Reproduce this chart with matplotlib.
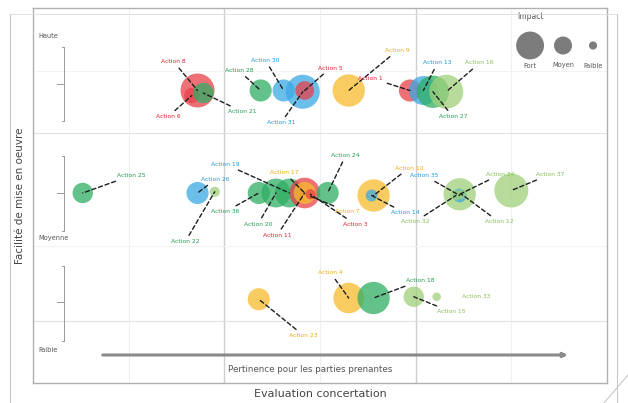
import matplotlib.pyplot as plt
from matplotlib.lines import Line2D

# ---- data ----
actions = ['Action 8', 'Action 6', 'Action 21', 'Action 28', 'Action 30', 'Action 31', 'Action 5',
           'Action 9', 'Action 1', 'Action 13', 'Action 27', 'Action 16',
           'Action 25', 'Action 26', 'Action 22', 'Action 36', 'Action 20', 'Action 19', 'Action 11',
           'Action 17', 'Action 7', 'Action 3', 'Action 24', 'Action 10', 'Action 14',
           'Action 34', 'Action 35', 'Action 32', 'Action 12', 'Action 37',
           'Action 23', 'Action 4', 'Action 18', 'Action 15', 'Action 33']
pertinence = [0.86, 0.83, 0.89, 1.19, 1.31, 1.41, 1.42,
              1.65, 1.97, 2.04, 2.09, 2.16,
              0.26, 0.86, 0.95, 1.18, 1.27, 1.34, 1.42,
              1.42, 1.44, 1.45, 1.54, 1.78, 1.77,
              2.23, 2.23, 2.21, 2.24, 2.50,
              1.18, 1.65, 1.78, 1.99, 2.11]
facilite = [2.34, 2.30, 2.32, 2.34, 2.34, 2.33, 2.34,
            2.34, 2.34, 2.34, 2.33, 2.33,
            1.52, 1.52, 1.53, 1.52, 1.52, 1.52, 1.52,
            1.52, 1.50, 1.51, 1.52, 1.50, 1.50,
            1.51, 1.50, 1.50, 1.51, 1.54,
            0.67, 0.68, 0.68, 0.69, 0.69]
impact = [10.0, 4.5, 6.0, 6.5, 6.5, 10.0, 5.5,
          9.5, 6.5, 8.5, 9.5, 10.0,
          6.0, 6.5, 3.0, 6.5, 8.5, 8.5, 9.0,
          6.5, 3.0, 3.0, 6.5, 9.5, 3.5,
          9.5, 4.0, 3.0, 3.0, 10.0,
          6.5, 9.0, 9.5, 6.0, 2.5]
theme = ['rouge', 'rouge', 'vert', 'vert', 'bleu', 'bleu', 'rouge',
         'jaune', 'rouge', 'bleu', 'vert', 'vert_clair',
         'vert', 'bleu', 'vert_clair', 'vert', 'vert', 'vert', 'rouge',
         'jaune', 'jaune', 'rouge', 'vert', 'jaune', 'bleu',
         'vert_clair', 'bleu', 'vert_clair', 'vert_clair', 'vert_clair',
         'jaune', 'jaune', 'vert', 'vert_clair', 'vert_clair']
label_theme = ['rouge', 'rouge', 'vert', 'vert', 'bleu', 'bleu', 'rouge',
               'jaune', 'rouge', 'bleu', 'vert', 'vert_clair',
               'vert', 'bleu', 'vert', 'vert', 'vert', 'bleu', 'rouge',
               'jaune', 'jaune', 'rouge', 'vert', 'jaune', 'bleu',
               'vert_clair', 'bleu', 'vert_clair', 'vert_clair', 'vert_clair',
               'jaune', 'jaune', 'vert', 'vert_clair', 'vert_clair']

legend_levels = ['Fort', 'Moyen', 'Faible']
legend_impact = [8.2, 5.3, 2.4]
row_labels = ['Haute', 'Moyenne', 'Faible']

# where each label text sits (layout only)
label_pos = [(0.80, 2.57), (0.77, 2.13), (1.02, 2.17), (1.15, 2.50), (1.29, 2.58), (1.37, 2.08), (1.49, 2.52),
             (1.84, 2.66), (1.83, 2.44), (2.04, 2.56), (2.12, 2.13), (2.26, 2.56),
             (0.44, 1.66), (0.88, 1.63), (0.87, 1.13), (1.08, 1.37), (1.25, 1.27), (1.08, 1.75), (1.35, 1.18),
             (1.39, 1.68), (1.58, 1.37), (1.62, 1.27), (1.56, 1.82), (1.89, 1.72), (1.87, 1.36),
             (2.37, 1.67), (2.12, 1.66), (2.07, 1.29), (2.36, 1.29), (2.63, 1.67),
             (1.34, 0.38), (1.62, 0.88), (1.95, 0.82), (2.11, 0.57), (2.24, 0.69)]

fill = {'rouge': '#e8404a', 'vert': '#2fae63', 'bleu': '#3aa8e4', 'jaune': '#f8bb2c', 'vert_clair': '#9fd07a'}
text_col = {'rouge': '#e0202e', 'vert': '#1f9a50', 'bleu': '#1a98d8', 'jaune': '#eeaa10', 'vert_clair': '#86bd55'}


def size(v):
    # impact -> marker area in pt^2 (radius ~1.7 px per unit, 0.72 pt per px)
    return (2 * 1.7 * v * 0.72) ** 2


fig = plt.figure(figsize=(6.28, 4.03), dpi=100)
ax = fig.add_axes([33 / 628, 20 / 403, 574 / 628, 375 / 403])
ax.set_xlim(0, 3)
ax.set_ylim(0, 3)
ax.set_xticks([])
ax.set_yticks([])
for s in ax.spines.values():
    s.set_color('#b0b0b0')
    s.set_linewidth(1.0)

# grid
for gx in [1, 2]:
    ax.axvline(gx, color='#cfcfcf', lw=1.0, zorder=0)
for gx in [0.5, 1.5, 2.5]:
    ax.axvline(gx, color='#f0f0f0', lw=0.8, zorder=0)
for gy in [2.0, 0.5]:
    ax.axhline(gy, color='#e2e2e2', lw=0.8, zorder=0)
for gy in [2.5, 1.1]:
    ax.axhline(gy, color='#f3f3f3', lw=0.8, zorder=0)

# bubbles
for i in range(len(actions)):
    ax.scatter(pertinence[i], facilite[i], s=size(impact[i]), color=fill[theme[i]],
               alpha=0.75, edgecolors='none', zorder=3)

# labels with dashed leaders
for i, name in enumerate(actions):
    lx, ly = label_pos[i]
    ha = 'left' if lx >= pertinence[i] else 'right'
    if name == 'Action 33':
        ax.text(lx, ly, name, fontsize=4.3, color=text_col[label_theme[i]], ha='left', va='center', zorder=5)
        continue
    ax.annotate(name, xy=(pertinence[i], facilite[i]), xytext=(lx, ly),
                fontsize=4.3, color=text_col[label_theme[i]], ha=ha, va='center', zorder=5,
                arrowprops=dict(arrowstyle='-', linestyle=(0, (3, 2)), color='#1e1e1e', lw=1.0,
                                shrinkA=1, shrinkB=0))

# row brackets on the left
brackets = [(2.69, 2.10, 2.39), (1.82, 1.22, 1.52), (0.94, 0.34, 0.65)]
for top, bot, mid in brackets:
    ax.plot([0.162, 0.162], [bot, top], color='#9a9a9a', lw=0.7)
    ax.plot([0.125, 0.162], [mid, mid], color='#9a9a9a', lw=0.7)
    for yy in (top, bot):
        ax.plot([0.150, 0.162], [yy, yy], color='#9a9a9a', lw=0.7)
row_y = [2.78, 1.16, 0.26]
for lab, yy in zip(row_labels, row_y):
    ax.text(0.03, yy, lab, fontsize=4.8, color='#555555', ha='left', va='center')

# bottom arrow
ax.annotate('', xy=(2.81, 0.224), xytext=(0.35, 0.224),
            arrowprops=dict(arrowstyle='-|>', color='#8a8a8a', lw=2.2, mutation_scale=6))
ax.text(1.45, 0.104, 'Pertinence pour les parties prenantes', fontsize=6.3, color='#555555',
        ha='center', va='center')

# impact legend
ax.text(2.60, 2.93, 'Impact', fontsize=5.5, color='#555555', ha='center', va='center')
legend_x = [2.598, 2.770, 2.927]
for lx, lv, lab in zip(legend_x, legend_impact, legend_levels):
    ax.scatter(lx, 2.70, s=size(lv), color='#6e6e6e', edgecolors='none', alpha=0.9)
    ax.text(lx, 2.54, lab, fontsize=4.8, color='#555555', ha='center', va='center')

ax.set_xlabel('Evaluation concertation', fontsize=8, color='#444444', labelpad=4)
ax.set_ylabel('Facilité de mise en oeuvre', fontsize=7.5, color='#444444', labelpad=6)

# slide frame decoration
fig.add_artist(Line2D([10 / 628, 10 / 628], [0, 1 - 14 / 403], color='#c8c8c8', lw=0.8))
fig.add_artist(Line2D([10 / 628, 617 / 628], [1 - 14 / 403, 1 - 14 / 403], color='#dcdcdc', lw=0.6))
fig.add_artist(Line2D([617 / 628, 617 / 628], [1 - 14 / 403, 0], color='#c8c8c8', lw=0.8))
fig.add_artist(Line2D([604 / 628, 628 / 628], [0, 28 / 403], color='#c8c8c8', lw=0.8))

fig.savefig('out.png', dpi=100)
